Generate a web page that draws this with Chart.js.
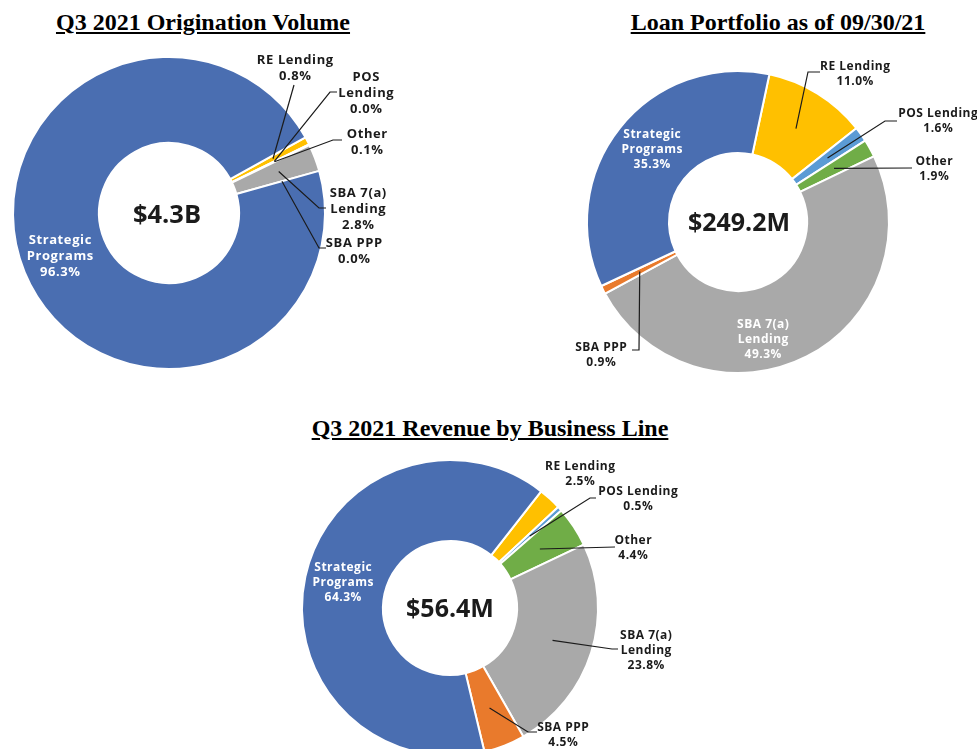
<!DOCTYPE html>
<html>
<head>
<meta charset="utf-8">
<script src="https://cdn.jsdelivr.net/npm/chart.js@4.4.1/dist/chart.umd.min.js"></script>
<style>
  body { margin: 0; width: 977px; height: 749px; overflow: hidden; background: #fff; position: relative; }
  .title {
    position: absolute; transform: translateX(-50%); white-space: nowrap;
    font: bold 24px "Liberation Serif", serif; line-height: 26px;
    text-decoration: underline; text-underline-offset: 2px; color: #000;
  }
  .box { position: absolute; }
</style>
</head>
<body>
<div class="title" style="left:203px;top:9px">Q3 2021 Origination Volume</div>
<div class="title" style="left:778px;top:9px">Loan Portfolio as of 09/30/21</div>
<div class="title" style="left:490px;top:415px">Q3 2021 Revenue by Business Line</div>

<script>
// ── データ ────────────────────────────────────────────
const segments = ['RE Lending', 'POS Lending', 'Other', 'SBA 7(a) Lending', 'SBA PPP', 'Strategic Programs'];
const originationPct = [0.8, 0.0, 0.1, 2.8, 0.0, 96.3];
const portfolioPct   = [11.0, 1.6, 1.9, 49.3, 0.9, 35.3];
const revenuePct     = [2.5, 0.5, 4.4, 23.8, 4.5, 64.3];
const totals = { origination: '$4.3B', portfolio: '$249.2M', revenue: '$56.4M' };

const segmentColors = ['#FFC000', '#5B9BD5', '#70AD47', '#A9A9A9', '#E97A2C', '#4A6EB1'];

// ── ラベル配置（中心からの相対位置） ──────────────────
// text: 1行目の中心, lines: 名前の改行, line: 引出線の折れ点
const originationLayout = [
  { text: [126, -153], lines: ['RE Lending'], line: [[125, -128]] },
  { text: [197, -136], lines: ['POS', 'Lending'], line: [[161, -121], [168, -121]] },
  { text: [198, -79], lines: ['Other'], line: [[164, -73], [173, -73]] },
  { text: [189, -20], lines: ['SBA 7(a)', 'Lending'], line: [[150, -5], [157, -5]] },
  { text: [185, 30], lines: ['SBA PPP'], line: [[150, 35], [157, 35]] },
  { text: [-109, 27], lines: ['Strategic', 'Programs'], color: '#fff' },
];
const portfolioLayout = [
  { text: [117, -155], lines: ['RE Lending'], line: [[70, -150], [82, -150]] },
  { text: [200, -108], lines: ['POS Lending'], line: [[147, -101], [159, -101]] },
  { text: [196, -60], lines: ['Other'], line: [[174, -54]] },
  { text: [25, 103], lines: ['SBA 7(a)', 'Lending'], color: '#fff' },
  { text: [-137, 126], lines: ['SBA PPP'], line: [[-99, 128], [-106, 128]] },
  { text: [-86, -87], lines: ['Strategic', 'Programs'], color: '#fff' },
];
const revenueLayout = [
  { text: [130, -141], lines: ['RE Lending'] },
  { text: [188, -116], lines: ['POS Lending'], line: [[140, -110], [146, -110]] },
  { text: [183, -67], lines: ['Other'], line: [[165, -61]] },
  { text: [196, 28], lines: ['SBA 7(a)', 'Lending'], line: [[162, 41], [168, 41]] },
  { text: [113, 120], lines: ['SBA PPP'], line: [[78, 124], [87, 124]] },
  { text: [-107, -40], lines: ['Strategic', 'Programs'], color: '#fff' },
];

// ── ラベル描画プラグイン ──────────────────────────────
const sliceLabels = {
  id: 'sliceLabels',
  afterDatasetsDraw(chart, args, opts) {
    const ctx = chart.ctx;
    const meta = chart.getDatasetMeta(0);
    const values = chart.data.datasets[0].data;
    const cx = meta.data[0].x, cy = meta.data[0].y;
    ctx.save();
    ctx.textAlign = 'center';
    ctx.textBaseline = 'middle';

    // 中央の合計
    ctx.fillStyle = '#1b1b1b';
    ctx.font = `bold ${opts.totalSize}px "Open Sans", sans-serif`;
    ctx.fillText(opts.total, cx + opts.totalAt[0], cy + opts.totalAt[1]);

    ctx.font = `bold ${opts.fontSize}px "Open Sans", sans-serif`;
    ctx.letterSpacing = opts.spacing + 'px';
    ctx.strokeStyle = '#1b1b1b';
    ctx.lineWidth = 1.2;
    meta.data.forEach((arc, i) => {
      const lab = opts.layout[i];
      const p = arc.getProps(['startAngle', 'endAngle', 'innerRadius', 'outerRadius'], true);
      if (lab.line) {
        const mid = (p.startAngle + p.endAngle) / 2;
        const r = p.innerRadius + (p.outerRadius - p.innerRadius) * opts.anchor;
        ctx.beginPath();
        ctx.moveTo(cx + Math.cos(mid) * r, cy + Math.sin(mid) * r);
        lab.line.forEach(pt => ctx.lineTo(cx + pt[0], cy + pt[1]));
        ctx.stroke();
      }
      ctx.fillStyle = lab.color || '#1b1b1b';
      const rows = [...lab.lines, values[i].toFixed(1) + '%'];
      rows.forEach((t, k) => ctx.fillText(t, cx + lab.text[0] + opts.spacing / 2, cy + lab.text[1] + k * opts.lineHeight));
    });
    ctx.restore();
  }
};

// ── ドーナツ作成 ──────────────────────────────────────
function makeDonut(box, center, R, inner, rotation, values, labelOpts) {
  const wrap = document.createElement('div');
  wrap.className = 'box';
  Object.assign(wrap.style, { left: box.x + 'px', top: box.y + 'px', width: box.w + 'px', height: box.h + 'px' });
  const canvas = document.createElement('canvas');
  wrap.appendChild(canvas);
  document.body.appendChild(wrap);

  const [cx, cy] = center;
  return new Chart(canvas, {
    type: 'doughnut',
    data: {
      labels: segments,
      datasets: [{
        data: values,
        backgroundColor: segmentColors,
        borderColor: '#fff',
        borderWidth: 2,
      }]
    },
    options: {
      responsive: true,
      maintainAspectRatio: false,
      animation: false,
      events: [],
      rotation,
      radius: R,
      cutout: (inner / R * 100) + '%',
      layout: {
        padding: {
          left: cx - box.x - R, right: box.x + box.w - cx - R,
          top: cy - box.y - R, bottom: box.y + box.h - cy - R,
        }
      },
      plugins: {
        legend: { display: false },
        tooltip: { enabled: false },
        sliceLabels: labelOpts,
      }
    },
    plugins: [sliceLabels]
  });
}

makeDonut({ x: 0, y: 40, w: 480, h: 350 }, [169, 213], 156, 70, 61, originationPct, {
  layout: originationLayout, total: totals.origination, totalAt: [-2, 3], totalSize: 25.5,
  fontSize: 13, spacing: 0.6, lineHeight: 16, anchor: 0.55,
});
makeDonut({ x: 490, y: 40, w: 487, h: 350 }, [738, 222], 151, 69, 12, portfolioPct, {
  layout: portfolioLayout, total: totals.portfolio, totalAt: [1, 2], totalSize: 25,
  fontSize: 12, spacing: 0.5, lineHeight: 15, anchor: 0.5,
});
makeDonut({ x: 250, y: 440, w: 480, h: 320 }, [450, 608], 148, 67, 38, revenuePct, {
  layout: revenueLayout, total: totals.revenue, totalAt: [0, 2], totalSize: 25,
  fontSize: 12, spacing: 0.5, lineHeight: 15, anchor: 0.5,
});
</script>
</body>
</html>
